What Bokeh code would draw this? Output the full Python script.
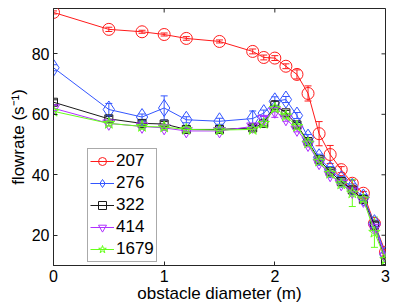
import math
from bokeh.plotting import figure
from bokeh.models import (Range1d, Legend, LegendItem, Whisker,
                          ColumnDataSource, TeeHead, FixedTicker)
from bokeh.embed import file_html
from bokeh.resources import INLINE

diam = [0, 0.5, 0.8, 1.0, 1.2, 1.5, 1.8, 1.9, 2.0, 2.1, 2.2, 2.3, 2.4, 2.5, 2.6, 2.7, 2.8, 2.9, 3.0]

names = ["207", "276", "322", "414", "1679"]

flow_207 = [93.7, 88.1, 87.3, 86.4, 85.1, 84.1, 80.8, 78.8, 78.6, 75.9, 73.2, 66.9, 53.6, 46.7, 41.7, 37.2, 33.9, 23.9, 14.4]
err_207 = [0.5, 0.7, 0.5, 0.5, 0.6, 0.5, 0.8, 0.8, 0.8, 0.8, 1.5, 2.5, 4.0, 3.0, 1.0, 1.0, 0.6, 1.0, 1.0]

flow_276 = [75.4, 61.6, 59.1, 62.1, 58.2, 57.7, 58.6, 60.4, 64.3, 64.9, 59.6, 52.3, 45.8, 41.7, 38.5, 36.0, 32.5, 24.0, 13.5]
err_276 = [1.0, 2.0, 1.0, 4.0, 1.0, 1.0, 2.5, 1.0, 1.5, 1.0, 1.0, 1.0, 1.0, 1.0, 1.0, 1.0, 1.0, 1.0, 1.0]

flow_322 = [64.0, 58.5, 57.0, 56.8, 55.0, 55.0, 55.5, 57.0, 63.0, 60.5, 56.5, 51.0, 45.0, 41.0, 37.8, 35.0, 31.8, 23.3, 11.3]
err_322 = [0.8, 0.8, 0.8, 0.8, 0.8, 0.8, 0.8, 0.8, 1.5, 0.8, 0.8, 0.8, 0.8, 0.8, 0.8, 0.8, 0.8, 1.0, 1.0]

flow_414 = [62.0, 57.0, 56.0, 55.5, 54.5, 54.5, 56.0, 58.5, 61.0, 58.5, 55.0, 50.0, 44.0, 40.0, 37.0, 34.5, 31.5, 22.5, 13.0]
err_414 = [0.8, 0.8, 0.8, 0.8, 0.8, 0.8, 0.8, 0.8, 2.0, 0.8, 0.8, 0.8, 0.8, 0.8, 0.8, 0.8, 0.8, 1.0, 1.0]

flow_1679 = [61.0, 57.0, 56.0, 55.8, 55.0, 54.8, 55.0, 57.0, 62.0, 59.5, 56.0, 50.5, 44.5, 40.5, 37.0, 34.0, 32.0, 21.0, 12.0]
err_1679 = [0.8, 0.8, 0.8, 0.8, 0.8, 0.8, 0.8, 0.8, 1.0, 0.8, 0.8, 0.8, 0.8, 0.8, 0.8, 4.5, 0.8, 5.0, 1.0]

x_ticks = [0, 1, 2, 3]
y_ticks = [20, 40, 60, 80]
x_lim = (0, 3)
y_lim = (10, 95)

series = [
    ("207", flow_207, err_207, "#ff1a1a", "circle", 12),
    ("276", flow_276, err_276, "#3355ff", "diamond", 17),
    ("322", flow_322, err_322, "#1a1a1a", "square", 8),
    ("414", flow_414, err_414, "#b030ff", "inverted_triangle", 12),
    ("1679", flow_1679, err_1679, "#66ff1a", "star", 12),
]

FONT = "Liberation Sans"
AXC = "#262626"

p = figure(width=399, height=305, output_backend="svg", toolbar_location=None,
           x_range=Range1d(*x_lim), y_range=Range1d(*y_lim),
           min_border_left=53, min_border_right=14, min_border_top=8, min_border_bottom=38)
p.background_fill_color = "white"
p.border_fill_color = "white"
p.outline_line_color = AXC
p.xgrid.visible = False
p.ygrid.visible = False

for ax in (p.xaxis[0], p.yaxis[0]):
    ax.major_tick_in = 4
    ax.major_tick_out = 0
    ax.minor_tick_in = 0
    ax.minor_tick_out = 0
    ax.axis_line_color = AXC
    ax.major_tick_line_color = AXC
    ax.major_label_text_font = FONT
    ax.major_label_text_font_size = "16px"
    ax.major_label_text_color = "black"
    ax.axis_label_text_font = FONT
    ax.axis_label_text_font_size = "17px"
    ax.axis_label_text_font_style = "normal"
    ax.axis_label_text_color = "black"

p.xaxis[0].ticker = FixedTicker(ticks=x_ticks)
p.yaxis[0].ticker = FixedTicker(ticks=y_ticks)
p.xaxis[0].axis_label = "obstacle diameter (m)"
p.yaxis[0].axis_label = "flowrate (s\u207b\u00b9)"
p.xaxis[0].major_label_standoff = 4
p.yaxis[0].major_label_standoff = 4
p.xaxis[0].axis_label_standoff = -1
p.yaxis[0].axis_label_standoff = 1

# inward tick marks on the top and right edges (mirrored box ticks)
p.scatter(x=x_ticks, y=[y_lim[1]] * len(x_ticks), marker="dash", size=8,
          angle=math.pi / 2, line_color=AXC, line_width=1)
p.scatter(x=[x_lim[1]] * len(y_ticks), y=y_ticks, marker="dash", size=8,
          line_color=AXC, line_width=1)

items = []
for name, ys, es, col, mk, sz in series:
    src = ColumnDataSource(dict(x=diam, y=ys,
                                lo=[a - b for a, b in zip(ys, es)],
                                hi=[a + b for a, b in zip(ys, es)]))
    w = Whisker(source=src, base="x", lower="lo", upper="hi", line_color=col, line_width=1,
                upper_head=TeeHead(size=7, line_color=col, line_width=1),
                lower_head=TeeHead(size=7, line_color=col, line_width=1))
    p.add_layout(w)
    ln = p.line("x", "y", source=src, line_color=col, line_width=1)
    sc = p.scatter("x", "y", source=src, marker=mk, size=sz, line_color=col,
                   fill_color=None, line_width=1)
    items.append(LegendItem(label=name, renderers=[ln, sc]))

leg = Legend(items=items, location=(34, 3), label_text_font=FONT, label_text_font_size="17px",
             label_text_color="black", glyph_width=24, glyph_height=20, label_height=20,
             label_standoff=2, spacing=2, padding=2, margin=0,
             border_line_color="#555555", border_line_width=1, background_fill_alpha=1.0)
p.add_layout(leg)

open("out.html", "w").write(file_html(p, INLINE))
